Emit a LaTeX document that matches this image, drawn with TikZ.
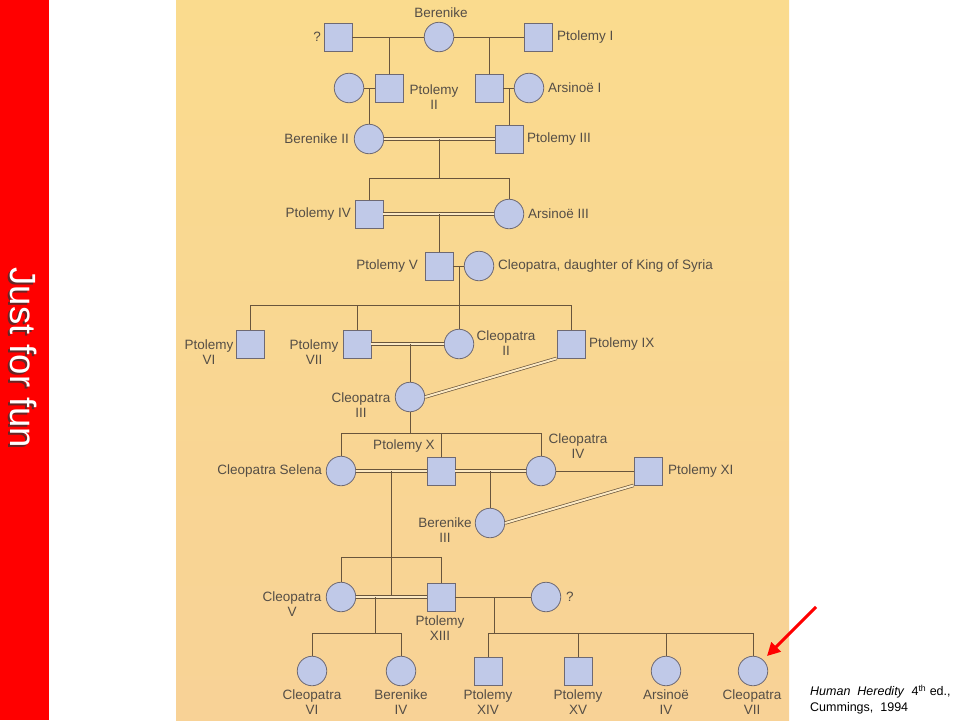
\documentclass[tikz,border=0pt]{standalone}
\usepackage{fontspec}
\setmainfont{Liberation Sans}
\usetikzlibrary{arrows.meta}
\definecolor{paneltop}{RGB}{250,219,142}
\definecolor{panelbot}{RGB}{248,210,150}
\definecolor{panel}{RGB}{249,215,146}
\definecolor{nodefill}{RGB}{192,201,232}
\definecolor{nodeborder}{RGB}{110,105,115}
\definecolor{linec}{RGB}{105,85,60}
\definecolor{labelc}{RGB}{85,78,70}
\tikzset{
  sq/.style={rectangle, draw=nodeborder, fill=nodefill, line width=0.8pt, minimum size=28pt, inner sep=0pt},
  ci/.style={circle, draw=nodeborder, fill=nodefill, line width=0.8pt, minimum size=29.5pt, inner sep=0pt},
  lab/.style={text=labelc, font=\fontsize{13.5}{15.5}\selectfont, inner sep=0pt, align=center},
  ln/.style={draw=linec, line width=0.8pt},
  dbl/.style={draw=linec, line width=0.7pt, double=panel!55!white, double distance=2pt},
}
\begin{document}
\begin{tikzpicture}[x=1pt,y=-1pt]
\useasboundingbox (0,0) rectangle (960,720);
\fill[white] (0,0) rectangle (960,720);
\shade[top color=paneltop, bottom color=panelbot] (176,0) rectangle (789,720);
\fill[red] (0,0) rectangle (49,720);
\node[rotate=-90, text=black!80, opacity=0.75, font=\fontsize{36.5}{36.5}\selectfont] (jffs) at (21.5,360) {Just for fun};
\node[rotate=-90, text=white, font=\fontsize{36.5}{36.5}\selectfont] (jff) at (23.5,358) {Just for fun};

% generation 1
\node[sq] (q1) at (338,37) {};
\node[ci] (ber) at (439,37) {};
\node[sq] (p1) at (538,37) {};
% generation 2
\node[ci] (wife) at (349,88) {};
\node[sq] (p2) at (389,88) {};
\node[sq] (sqB) at (489,88) {};
\node[ci] (ars1) at (529,88) {};
% generation 3
\node[ci] (ber2) at (369,139) {};
\node[sq] (p3) at (509,139) {};
% generation 4
\node[sq] (p4) at (369,214) {};
\node[ci] (ars3) at (509,214) {};
% generation 5
\node[sq] (p5) at (439,266) {};
\node[ci] (cleoS) at (479,266) {};
% generation 6
\node[sq] (p6) at (250,344) {};
\node[sq] (p7) at (357,344) {};
\node[ci] (c2) at (459,344) {};
\node[sq] (p9) at (571,344) {};
\node[ci] (c3) at (410,397) {};
% generation 7
\node[ci] (cs) at (341,471) {};
\node[sq] (p10) at (441,471) {};
\node[ci] (c4) at (541,471) {};
\node[sq] (p11) at (648,471) {};
\node[ci] (b3) at (490,523) {};
% generation 8
\node[ci] (c5) at (341,597) {};
\node[sq] (p13) at (441,597) {};
\node[ci] (qc) at (546,597) {};
% generation 9
\node[ci] (c6) at (312,671) {};
\node[ci] (b4) at (401,671) {};
\node[sq] (p14) at (488,671) {};
\node[sq] (p15) at (578,671) {};
\node[ci] (a4) at (666,671) {};
\node[ci] (c7) at (753,671) {};

% junction coordinates
\coordinate (j1) at (389,37);
\coordinate (j2) at (489,37);
\coordinate (j3) at (369,88);
\coordinate (j4) at (509,88);
\coordinate (j5) at (439,139);
\coordinate (s5) at (439,178);
\coordinate (s5l) at (369,178);
\coordinate (s5r) at (509,178);
\coordinate (j6) at (439,214);
\coordinate (j7) at (459,266);
\coordinate (s7l) at (250,305);
\coordinate (s7r) at (571,305);
\coordinate (s7a) at (357,305);
\coordinate (j8) at (410,344);
\coordinate (s8) at (410,433);
\coordinate (s8l) at (341,433);
\coordinate (s8r) at (541,433);
\coordinate (s8m) at (441,433);
\coordinate (j9) at (391,471);
\coordinate (j9b) at (391,597);
\coordinate (j10) at (490,471);
\coordinate (s9l) at (341,557);
\coordinate (s9r) at (441,557);
\coordinate (j11) at (375,597);
\coordinate (s11) at (375,633);
\coordinate (s11l) at (312,633);
\coordinate (s11r) at (401,633);
\coordinate (j12) at (494,597);
\coordinate (s12) at (494,633);
\coordinate (s12l) at (488,633);
\coordinate (s12r) at (753,633);
\coordinate (s12b) at (578,633);
\coordinate (s12c) at (666,633);

% connectors
\draw[ln] (q1) -- (ber);
\draw[ln] (ber) -- (p1);
\draw[ln] (j1) -- (p2);
\draw[ln] (j2) -- (sqB);
\draw[ln] (wife) -- (p2);
\draw[ln] (sqB) -- (ars1);
\draw[ln] (j3) -- (ber2);
\draw[ln] (j4) -- (p3);
\draw[dbl] (ber2) -- (p3);
\draw[ln] (j5) -- (s5);
\draw[ln] (s5l) -- (s5r);
\draw[ln] (s5l) -- (p4);
\draw[ln] (s5r) -- (ars3);
\draw[dbl] (p4) -- (ars3);
\draw[ln] (j6) -- (p5);
\draw[ln] (p5) -- (cleoS);
\draw[ln] (j7) -- (c2);
\draw[ln] (s7l) -- (s7r);
\draw[ln] (s7l) -- (p6);
\draw[ln] (s7a) -- (p7);
\draw[ln] (s7r) -- (p9);
\draw[dbl] (p7) -- (c2);
\draw[ln] (j8) -- (c3);
\draw[dbl] (c3.east) -- (p9.south west);
\draw[ln] (c3) -- (s8);
\draw[ln] (s8l) -- (s8r);
\draw[ln] (s8l) -- (cs);
\draw[ln] (s8m) -- (p10);
\draw[ln] (s8r) -- (c4);
\draw[dbl] (cs) -- (p10);
\draw[dbl] (p10) -- (c4);
\draw[ln] (c4) -- (p11);
\draw[ln] (j10) -- (b3);
\draw[dbl] (b3.east) -- (p11.south west);
\draw[ln] (j9) -- (j9b);
\draw[ln] (s9l) -- (s9r);
\draw[ln] (s9l) -- (c5);
\draw[ln] (s9r) -- (p13);
\draw[dbl] (c5) -- (p13);
\draw[ln] (p13) -- (qc);
\draw[ln] (j11) -- (s11);
\draw[ln] (s11l) -- (s11r);
\draw[ln] (s11l) -- (c6);
\draw[ln] (s11r) -- (b4);
\draw[ln] (j12) -- (s12);
\draw[ln] (s12l) -- (s12r);
\draw[ln] (s12l) -- (p14);
\draw[ln] (s12b) -- (p15);
\draw[ln] (s12c) -- (a4);
\draw[ln] (s12r) -- (c7);

% labels
\node[lab, anchor=east] (lq1) at (321,37) {?};
\node[lab] (lber) at (441,13) {Berenike};
\node[lab, anchor=west] (lp1) at (557,37) {Ptolemy I};
\node[lab] (lp2) at (434,97) {Ptolemy\\II};
\node[lab, anchor=west] (lars1) at (548,88) {Arsinoë I};
\node[lab, anchor=east] (lber2) at (349,139) {Berenike II};
\node[lab, anchor=west] (lp3) at (527,139) {Ptolemy III};
\node[lab, anchor=east] (lp4) at (351,214) {Ptolemy IV};
\node[lab, anchor=west] (lars3) at (528,214) {Arsinoë III};
\node[lab, anchor=east] (lp5) at (418,266) {Ptolemy V};
\node[lab, anchor=west] (lcleoS) at (498,266) {Cleopatra, daughter of King of Syria};
\node[lab] (lp6) at (209,352) {Ptolemy\\VI};
\node[lab] (lp7) at (314,352) {Ptolemy\\VII};
\node[lab] (lc2) at (506,343) {Cleopatra\\II};
\node[lab, anchor=west] (lp9) at (589,344) {Ptolemy IX};
\node[lab] (lc3) at (361,405) {Cleopatra\\III};
\node[lab] (lp10) at (404,446) {Ptolemy X};
\node[lab] (lc4) at (578,446) {Cleopatra\\IV};
\node[lab, anchor=east] (lcs) at (322,471) {Cleopatra Selena};
\node[lab, anchor=west] (lp11) at (668,471) {Ptolemy XI};
\node[lab] (lb3) at (445,530) {Berenike\\III};
\node[lab] (lc5) at (292,604) {Cleopatra\\V};
\node[lab] (lp13) at (440,628) {Ptolemy\\XIII};
\node[lab, anchor=west] (lqc) at (566,597) {?};
\node[lab] (lc6) at (312,702) {Cleopatra\\VI};
\node[lab] (lb4) at (401,702) {Berenike\\IV};
\node[lab] (lp14) at (488,702) {Ptolemy\\XIV};
\node[lab] (lp15) at (578,702) {Ptolemy\\XV};
\node[lab] (la4) at (666,702) {Arsinoë\\IV};
\node[lab] (lc7) at (752,702) {Cleopatra\\VII};

% red arrow and citation
\coordinate (arrS) at (816,607);
\coordinate (arrE) at (767,656);
\draw[red, line width=3pt, -{Triangle[length=13pt,width=13pt]}] (arrS) -- (arrE);
\node[anchor=west, align=left, inner sep=0pt, font=\fontsize{12.5}{15.5}\selectfont] (cite) at (810,699.5) {\textit{Human\ \ Heredity}\ \ 4\textsuperscript{th} ed.,\\Cummings,\ \ 1994};
\end{tikzpicture}
\end{document}
